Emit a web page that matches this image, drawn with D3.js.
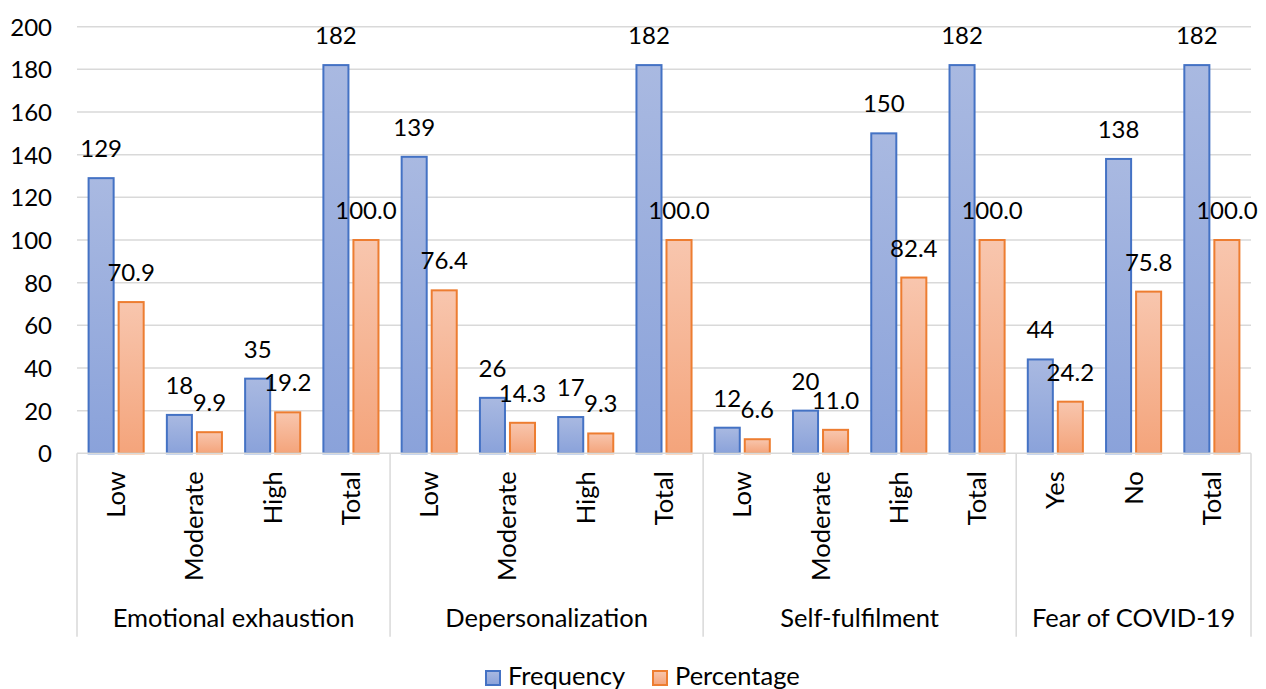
<!DOCTYPE html>
<html>
<head>
<meta charset="utf-8">
<script src="https://cdn.jsdelivr.net/npm/d3@7"></script>
<style>
  html, body { margin: 0; padding: 0; background: #fff; }
  svg { display: block; }
  text { font-family: Lato, "Open Sans", "Noto Sans", sans-serif; fill: #000; }
</style>
</head>
<body>
<svg id="chart" width="1266" height="689"></svg>
<script>
// Burnout dimensions and fear of COVID-19: counts and shares per level
const groups = ["Emotional exhaustion", "Depersonalization", "Self-fulfilment", "Fear of COVID-19"];
const groupLevels = [
  ["Low", "Moderate", "High", "Total"],
  ["Low", "Moderate", "High", "Total"],
  ["Low", "Moderate", "High", "Total"],
  ["Yes", "No", "Total"]
];
const frequency  = [129, 18, 35, 182, 139, 26, 17, 182, 12, 20, 150, 182, 44, 138, 182];
const percentage = [70.9, 9.9, 19.2, 100.0, 76.4, 14.3, 9.3, 100.0, 6.6, 11.0, 82.4, 100.0, 24.2, 75.8, 100.0];
const seriesNames = ["Frequency", "Percentage"];
const yTicks = [0, 20, 40, 60, 80, 100, 120, 140, 160, 180, 200];

// Flatten the two-level category axis
const cats = [];
groupLevels.forEach((lv, g) => lv.forEach(l => cats.push({ group: g, level: l })));
const rows = cats.map((c, i) => ({ i, group: c.group, level: c.level,
  values: [frequency[i], percentage[i]] }));

const svg = d3.select("#chart");
const plotLeft = 77, plotRight = 1251, plotTop = 26.7, plotBottom = 453.3;
const numSize = 24;    // numbers (ticks, value labels)
const wordSize = 25.5; // category, group and legend text

const x = d3.scaleBand().domain(d3.range(cats.length)).range([plotLeft, plotRight]).padding(0);
const xs = d3.scaleBand().domain(seriesNames).range([0, x.bandwidth()])
  .paddingInner(0.166).paddingOuter(0.386);
const y = d3.scaleLinear().domain([0, 200]).range([plotBottom, plotTop]);

// Gradients for the bar fills
const defs = svg.append("defs");
const palette = {
  Frequency:  { top: "#a9b9e1", bottom: "#8aa2da", stroke: "#4472c4" },
  Percentage: { top: "#f8c6ae", bottom: "#f4a47b", stroke: "#ed7d31" }
};
seriesNames.forEach(s => {
  const g = defs.append("linearGradient").attr("id", "grad-" + s)
    .attr("x1", 0).attr("y1", 0).attr("x2", 0).attr("y2", 1);
  g.append("stop").attr("offset", "0%").attr("stop-color", palette[s].top);
  g.append("stop").attr("offset", "100%").attr("stop-color", palette[s].bottom);
});

// Horizontal gridlines
svg.append("g").selectAll("line").data(yTicks.filter(t => t > 0)).join("line")
  .attr("x1", plotLeft).attr("x2", plotRight)
  .attr("y1", d => y(d)).attr("y2", d => y(d))
  .attr("stroke", "#d9d9d9").attr("stroke-width", 1.5);

// Y axis tick labels
const yAxis = d3.axisLeft(y).tickValues(yTicks).tickSize(0).tickPadding(0);
const yg = svg.append("g").attr("transform", `translate(${plotLeft - 25},0)`).call(yAxis);
yg.select(".domain").remove();
yg.selectAll("text").attr("font-size", numSize).attr("font-family", null)
  .attr("dy", "0.35em").attr("fill", "#000");

// Bars
const catG = svg.append("g").selectAll("g").data(rows).join("g")
  .attr("transform", d => `translate(${x(d.i)},0)`);
catG.selectAll("rect").data(d => d.values.map((v, k) => ({ s: seriesNames[k], v }))).join("rect")
  .attr("x", d => xs(d.s))
  .attr("y", d => y(d.v))
  .attr("width", xs.bandwidth())
  .attr("height", d => y(0) - y(d.v))
  .attr("fill", d => `url(#grad-${d.s})`)
  .attr("stroke", d => palette[d.s].stroke)
  .attr("stroke-width", 2);

// Value labels above bars
catG.selectAll("text.val").data(d => d.values.map((v, k) => ({ s: seriesNames[k], v }))).join("text")
  .attr("class", "val")
  .attr("x", d => xs(d.s) + xs.bandwidth() / 2)
  .attr("y", d => y(d.v) - 21)
  .attr("text-anchor", "middle")
  .attr("font-size", numSize)
  .text(d => d.s === "Percentage" ? d3.format(".1f")(d.v) : d3.format("d")(d.v));

// Category axis: baseline, group separators, labels
const axisColor = "#d9d9d9";
const axisBottom = 636.7;
svg.append("line").attr("x1", plotLeft).attr("x2", plotRight).attr("y1", plotBottom).attr("y2", plotBottom)
  .attr("stroke", axisColor).attr("stroke-width", 1.5);

const groupBounds = [];
let start = 0;
groupLevels.forEach((lv, g) => {
  groupBounds.push({ g, x0: x(start), x1: x(start + lv.length - 1) + x.bandwidth() });
  start += lv.length;
});
const sepXs = [plotLeft].concat(groupBounds.map(b => b.x1));
svg.append("g").selectAll("line").data(sepXs).join("line")
  .attr("x1", d => d).attr("x2", d => d)
  .attr("y1", plotBottom).attr("y2", axisBottom)
  .attr("stroke", axisColor).attr("stroke-width", 1.5);

svg.append("g").selectAll("text").data(rows).join("text")
  .attr("transform", d => `translate(${x(d.i) + x.bandwidth() / 2},${plotBottom + 18}) rotate(-90)`)
  .attr("text-anchor", "end")
  .attr("y", 9)
  .attr("font-size", wordSize)
  .text(d => d.level);

svg.append("g").selectAll("text").data(groupBounds).join("text")
  .attr("x", d => (d.x0 + d.x1) / 2)
  .attr("y", 627)
  .attr("text-anchor", "middle")
  .attr("font-size", wordSize)
  .text(d => groups[d.g]);

// Legend
const legendX = [485, 652];
const lg = svg.append("g").selectAll("g").data(seriesNames).join("g")
  .attr("transform", (d, k) => `translate(${legendX[k]},670)`);
lg.append("rect").attr("x", 1).attr("y", 1).attr("width", 14).attr("height", 14)
  .attr("fill", d => `url(#grad-${d})`)
  .attr("stroke", d => palette[d].stroke).attr("stroke-width", 2);
lg.append("text").attr("x", 23).attr("y", 14.5)
  .attr("font-size", wordSize)
  .text(d => d);
</script>
</body>
</html>
